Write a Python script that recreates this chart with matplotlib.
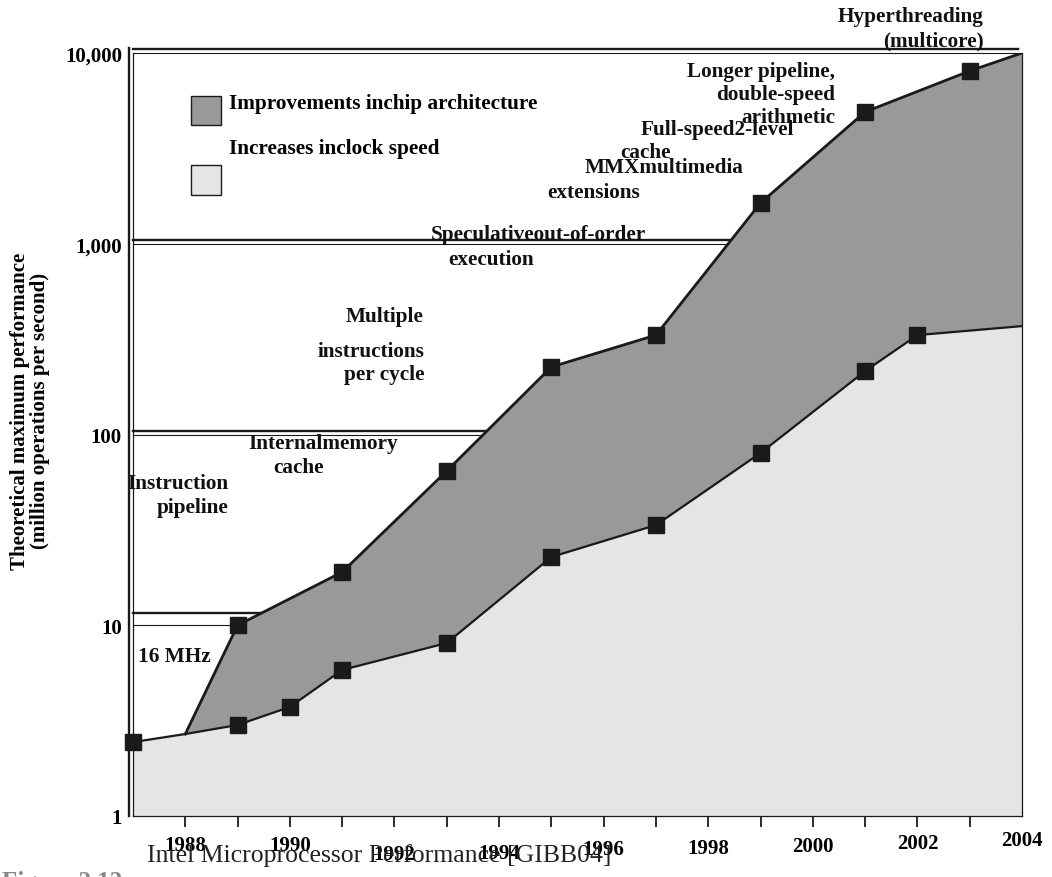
import matplotlib
matplotlib.use("Agg")
import matplotlib.pyplot as plt
from matplotlib.transforms import ScaledTranslation
from matplotlib.patches import Rectangle
from matplotlib.ticker import NullLocator

plt.rcParams['font.family'] = ['Liberation Serif', 'DejaVu Serif']
plt.rcParams['font.weight'] = 'bold'

# clock speed series (lower curve)
clock_years = [1987, 1988, 1989, 1990, 1991, 1993, 1995, 1997, 1999, 2001, 2002, 2004]
clock_perf = [2.44, 2.69, 3.0, 3.73, 5.83, 8.07, 22.8, 33.5, 80, 215, 332, 370]
clock_marker_years = [1987, 1989, 1990, 1991, 1993, 1995, 1997, 1999, 2001, 2002]
clock_marker_perf = [2.44, 3.0, 3.73, 5.83, 8.07, 22.8, 33.5, 80, 215, 332]

# chip architecture series (upper curve)
arch_years = [1988, 1989, 1991, 1993, 1995, 1997, 1999, 2001, 2003, 2004]
arch_perf = [2.69, 10.0, 19.0, 64.4, 226, 332, 1636, 4910, 8050, 10000]
arch_marker_years = [1989, 1991, 1993, 1995, 1997, 1999, 2001, 2003]
arch_marker_perf = [10.0, 19.0, 64.4, 226, 332, 1636, 4910, 8050]

ytick_vals = [1, 10, 100, 1000, 10000]
ytick_labels = ["1", "10", "100", "1,000", "10,000"]
xtick_years = list(range(1988, 2005))
xlabel_years = [1988, 1990, 1992, 1994, 1996, 1998, 2000, 2002, 2004]

legend_items = ["Improvements inchip architecture", "Increases inclock speed"]

# text, x px, y px, alignment
notes = [
    ("Hyperthreading", 984, 17, 'right'),
    ("(multicore)", 984, 41, 'right'),
    ("Longer pipeline,", 835, 72, 'right'),
    ("double-speed", 835, 95, 'right'),
    ("arithmetic", 835, 118, 'right'),
    ("Full-speed2-level", 641, 130, 'left'),
    ("cache", 620, 153, 'left'),
    ("MMXmultimedia", 585, 168, 'left'),
    ("extensions", 547, 193, 'left'),
    ("Speculativeout-of-order", 431, 235, 'left'),
    ("execution", 448, 260, 'left'),
    ("Multiple", 424, 317, 'right'),
    ("instructions", 424, 352, 'right'),
    ("per cycle", 424, 375, 'right'),
    ("Internalmemory", 248, 444, 'left'),
    ("cache", 273, 468, 'left'),
    ("Instruction", 228, 484, 'right'),
    ("pipeline", 228, 508, 'right'),
    ("16 MHz", 138, 657, 'left'),
]

W, H = 1052, 878
DARK = '#999999'
LIGHT = '#e5e5e5'
INK = '#1a1a1a'

fig = plt.figure(figsize=(W / 100, H / 100), dpi=100)
ax = fig.add_axes([133 / W, 61 / H, 889 / W, 763 / H])

def px(x, y):
    return x / W, 1 - y / H

# double gridlines (thick one sits a few px above the thin one)
grid_vals = [10, 100, 1000, 10000]
grid_gap = [12, 4, 4, 4]
for v, gap in zip(grid_vals, grid_gap):
    ax.plot([0, 1], [v, v], transform=ax.get_yaxis_transform(), color=INK,
            lw=0.8, zorder=1, clip_on=False)
    up = ax.get_yaxis_transform() + ScaledTranslation(0, gap / 100, fig.dpi_scale_trans)
    ax.plot([0, 0.995], [v, v], transform=up, color=INK, lw=1.7, zorder=1, clip_on=False)

# outer left line of the frame
left = ax.transAxes + ScaledTranslation(-4 / 100, 0, fig.dpi_scale_trans)
ax.plot([0, 0], [0, 1.006], transform=left, color=INK, lw=1.7, clip_on=False, zorder=1)

ax.fill_between(arch_years, 1, arch_perf, color=DARK, lw=0, zorder=2)
ax.fill_between(clock_years, 1, clock_perf, color=LIGHT, lw=0, zorder=2)
ax.plot(arch_years, arch_perf, color=INK, lw=2.0, zorder=3, solid_joinstyle='miter')
ax.plot(clock_years, clock_perf, color=INK, lw=1.6, zorder=3)
ax.plot(arch_marker_years, arch_marker_perf, 's', ms=12, color=INK, zorder=5, clip_on=False)
ax.plot(clock_marker_years, clock_marker_perf, 's', ms=12, color=INK, zorder=5, clip_on=False)

ax.set_yscale('log')
ax.set_ylim(1, 10000)
ax.set_xlim(1987, 2004)
ax.yaxis.set_minor_locator(NullLocator())
ax.set_yticks(ytick_vals)
ax.set_yticklabels(ytick_labels)
ax.set_xticks(xtick_years)
ax.set_xticklabels([str(y) if y in xlabel_years else '' for y in xtick_years])
ax.tick_params(axis='y', length=0, pad=8, labelsize=15)
ax.tick_params(axis='x', direction='out', length=8, width=1.3, pad=2, labelsize=15, color=INK)
ax.xaxis.get_major_ticks()[-1].tick1line.set_visible(False)

for s in ['left', 'bottom', 'right']:
    ax.spines[s].set_linewidth(0.9)
    ax.spines[s].set_color(INK)
ax.spines['top'].set_visible(False)

fig.canvas.draw()
# staggered x labels as in the original
drop = {1988: 5, 1990: 5, 1992: 14, 1994: 13, 1996: 9, 1998: 8, 2000: 6, 2002: 3, 2004: 0}
for y, lab in zip(xtick_years, ax.get_xticklabels()):
    if y in drop:
        lab.set_transform(lab.get_transform() +
                          ScaledTranslation(0, -drop[y] / 100, fig.dpi_scale_trans))

# legend boxes
fig.add_artist(Rectangle(px(191, 126), 30 / W, 29 / H, transform=fig.transFigure,
                         facecolor=DARK, edgecolor=INK, lw=1))
fig.add_artist(Rectangle(px(191, 196), 30 / W, 30 / H, transform=fig.transFigure,
                         facecolor=LIGHT, edgecolor=INK, lw=1))
fig.text(*px(229, 104), legend_items[0], fontsize=15.3, ha='left', va='center')
fig.text(*px(229, 149), legend_items[1], fontsize=15.3, ha='left', va='center')

for txt, x, y, ha in notes:
    fig.text(*px(x, y), txt, fontsize=15.3, ha=ha, va='center', color='#111111')

fig.text(*px(30, 411), "Theoretical maximum performance\n(million operations per second)",
         rotation=90, ha='center', va='center', fontsize=15, linespacing=1.05)

fig.text(*px(379, 856), "Intel Microprocessor Performance [GIBB04]", fontsize=18.5,
         fontweight='normal', ha='center', va='center', color='#222222')
fig.text(*px(2, 871), "Figure 2.12", fontsize=18, color='#888888', ha='left', va='top')

fig.savefig("out.png", dpi=100)
